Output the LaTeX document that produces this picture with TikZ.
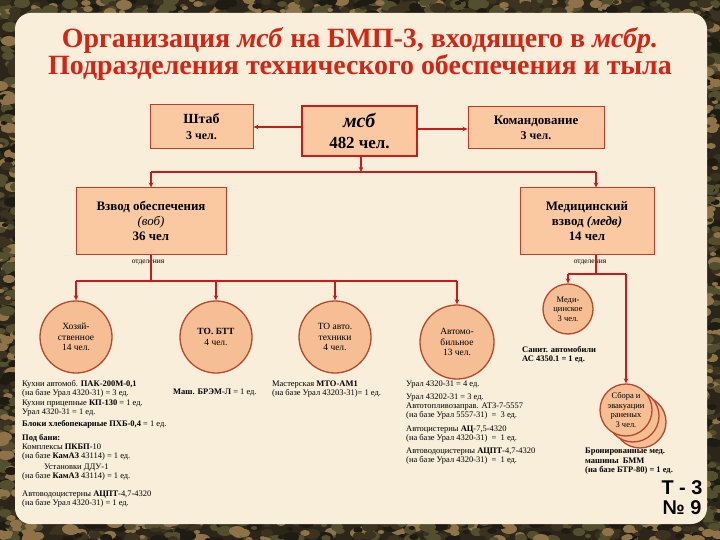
\documentclass[tikz,border=0pt]{standalone}
\usepackage{fontspec}
\setmainfont{Liberation Serif}
\newfontfamily\tnfont{Liberation Sans}
\usetikzlibrary{arrows.meta}

\definecolor{titlered}{RGB}{212,36,20}
\definecolor{linered}{RGB}{200,28,28}
\definecolor{boxfill}{RGB}{250,201,162}
\definecolor{boxline}{RGB}{188,62,42}
\definecolor{circfill}{RGB}{245,190,148}
\definecolor{circline}{RGB}{182,72,44}
\definecolor{panel}{RGB}{248,238,218}
\definecolor{camo0}{RGB}{44,38,26}
\definecolor{camo1}{RGB}{30,27,18}
\definecolor{camo2}{RGB}{142,114,72}
\definecolor{camo3}{RGB}{82,78,46}
\definecolor{camo4}{RGB}{60,50,32}

\begin{document}
\begin{tikzpicture}[x=1bp,y=-1bp,
    box/.style={rectangle,draw=boxline,fill=boxfill,line width=1bp,inner sep=0pt,align=center},
    circ/.style={circle,draw=circline,fill=circfill,line width=1.3bp,inner sep=0pt,align=center,
                 font=\fontsize{9.5}{10.5}\selectfont},
    link/.style={draw=linered,line width=1.1bp},
    arr/.style={link,-{Stealth[length=5bp,width=4.5bp]}},
    info/.style={inner sep=0pt,anchor=north west,align=left,font=\fontsize{8.5}{9}\selectfont},
  ]
\useasboundingbox (0,0) rectangle (720,540);

% camouflage frame and panel
\fill[camo0] (0,0) rectangle (720,540);
\pgfmathsetseed{11}
\foreach \xa/\xb/\ya/\yb/\n in {0/720/0/16/260, 0/720/520/540/300, 0/18/0/540/240, 702/720/0/540/240}{
  \foreach \i in {1,...,\n}{
    \pgfmathsetmacro{\cx}{random(\xa,\xb)}
    \pgfmathsetmacro{\cy}{random(\ya,\yb)}
    \pgfmathsetmacro{\rr}{random(2,5)}
    \pgfmathtruncatemacro{\cc}{random(1,4)}
    \fill[camo\cc] (\cx,\cy) ellipse ({\rr*1.6} and {\rr});
  }
}
\fill[panel,rounded corners=16bp] (15,13) rectangle (707,524);

% title
\node[text=titlered,font=\fontsize{28}{29}\selectfont\bfseries] (t1) at (360,40)
  {Организация \textit{мсб} на БМП-3, входящего в \textit{мсбр.}};
\node[text=titlered,font=\fontsize{28}{29}\selectfont\bfseries] (t2) at (360,67)
  {Подразделения технического обеспечения и тыла};

% top row
\node[box,minimum width=103bp,minimum height=44bp,font=\fontsize{14}{16}\selectfont\bfseries] (shtab) at (201.5,127)
  {Штаб\\\fontsize{12}{16}\selectfont 3 чел.};
\node[box,draw=linered,line width=2bp,minimum width=115bp,minimum height=50bp,font=\fontsize{20}{22}\selectfont\bfseries] (msb) at (359.5,131)
  {\textit{мсб}\\\fontsize{17}{22}\selectfont 482 чел.};
\node[box,minimum width=136bp,minimum height=42bp,font=\fontsize{13}{15}\selectfont\bfseries] (komand) at (536,128)
  {Командование\\\fontsize{12}{15}\selectfont 3 чел.};

\draw[arr] (msb.west |- 0,127) -- (shtab.east |- 0,127);
\draw[arr] (msb.east |- 0,129) -- (komand.west |- 0,129);

% second row
\node[box,minimum width=150bp,minimum height=66bp,font=\fontsize{13}{15}\selectfont\bfseries] (vzob) at (151,221)
  {Взвод обеспечения\\\textit{\mdseries(воб)}\\36 чел};
\node[box,minimum width=134bp,minimum height=66bp,font=\fontsize{13}{15}\selectfont\bfseries] (medv) at (587,221)
  {Медицинский\\взвод \textit{(медв)}\\14 чел};

\coordinate (m1) at (361,172);
\coordinate (b1) at (151,172);
\coordinate (b2) at (596,172);
\draw[arr] (msb.south -| m1) -- (m1);
\draw[link] (b1) -- (b2);
\draw[arr] (b1) -- (b1 |- vzob.north);
\draw[arr] (b2) -- (b2 |- medv.north);

\node[font=\fontsize{7.5}{8}\selectfont] (otd1) at (148,262) {отделения};
\node[font=\fontsize{7.5}{8}\selectfont] (otd2) at (590,262) {отделения};

% circles
\node[circ,minimum size=72bp] (hoz) at (76,337) {Хозяй-\\ственное\\14 чел.};
\node[circ,minimum size=72bp] (tobtt) at (216,337) {\textbf{ТО. БТТ}\\4 чел.};
\node[circ,minimum size=72bp] (toavto) at (335,337) {ТО авто.\\техники\\4 чел.};
\node[circ,minimum size=74bp] (avtomob) at (457,342) {Автомо-\\бильное\\13 чел.};
\node[circ,minimum size=50bp,font=\fontsize{8.5}{9.5}\selectfont] (medic) at (568,309) {Меди-\\цинское\\3 чел.};
\node[circ,minimum size=52bp] (sbor3) at (640,422) {};
\node[circ,minimum size=52bp] (sbor2) at (633,416) {};
\node[circ,minimum size=52bp,font=\fontsize{8.5}{9.5}\selectfont] (sbor) at (626,410) {Сбора и\\эвакуации\\раненых\\3 чел.};

\coordinate (v1) at (151,281);
\coordinate (h1) at (76,281);
\coordinate (h2) at (457,281);
\draw[link] (vzob.south -| v1) -- (v1);
\draw[link] (h1) -- (h2);
\draw[arr] (h1) -- (hoz.north);
\draw[arr] (tobtt |- h1) -- (tobtt.north);
\draw[arr] (toavto |- h1) -- (toavto.north);
\draw[arr] (h2) -- (avtomob.north);

\coordinate (v2) at (596,274);
\coordinate (k1) at (568,274);
\coordinate (k2) at (626,274);
\draw[link] (medv.south -| v2) -- (v2);
\draw[link] (k1) -- (k2);
\draw[arr] (k1) -- (medic.north);
\draw[arr] (k2) -- (sbor.north);

% equipment lists
\node[info] (l1) at (22,380) {Кухни автомоб. \textbf{ПАК-200М-0,1}\\(на базе Урал 4320-31) = 3 ед.};
\node[info] (l2) at (22,400) {Кухни прицепные \textbf{КП-130} = 1 ед.\\Урал 4320-31 = 1 ед.};
\node[info] (l3) at (22,420) {\textbf{Блоки хлебопекарные ПХБ-0,4} = 1 ед.};
\node[info] (l4) at (22,434) {\textbf{Под бани:}\\Комплексы \textbf{ПКБП}-10\\(на базе \textbf{КамАЗ} 43114) = 1 ед.};
\node[info,align=center] (l5) at (22,464) {Установки ДДУ-1\\(на базе \textbf{КамАЗ} 43114) = 1 ед.};
\node[info] (l6) at (22,491) {Автоводоцистерны \textbf{АЦПТ}-4,7-4320\\(на базе Урал 4320-31) = 1 ед.};

\node[info] (l7) at (173,389) {\textbf{Маш. БРЭМ-Л} = 1 ед.};
\node[info] (l8) at (272,381) {Мастерская \textbf{МТО-АМ1}\\(на базе Урал 43203-31)= 1 ед.};

\node[info] (l9) at (406,381) {Урал 4320-31 = 4 ед.};
\node[info] (l10) at (406,394) {Урал 43202-31 = 3 ед.\\Автотопливозаправ. АТЗ-7-5557\\(на базе Урал 5557-31) \ = \ 3 ед.};
\node[info] (l11) at (406,426) {Автоцистерны \textbf{АЦ}-7,5-4320\\(на базе Урал 4320-31) \ = \ 1 ед.};
\node[info] (l12) at (406,448) {Автоводоцистерны \textbf{АЦПТ}-4,7-4320\\(на базе Урал 4320-31) \ = \ 1 ед.};

\node[info,font=\fontsize{8.5}{9}\selectfont\bfseries] (l13) at (522,346) {Санит. автомобили\\АС 4350.1 = 1 ед.};
\node[info,font=\fontsize{8.5}{9.5}\selectfont\bfseries] (l14) at (585,448) {Бронированные мед.\\машины \ БММ\\(на базе БТР-80) = 1 ед.};

\node[font=\tnfont\fontsize{20}{20}\selectfont\bfseries,align=center] (tn) at (682,498) {Т - 3\\№ 9};
\end{tikzpicture}
\end{document}
